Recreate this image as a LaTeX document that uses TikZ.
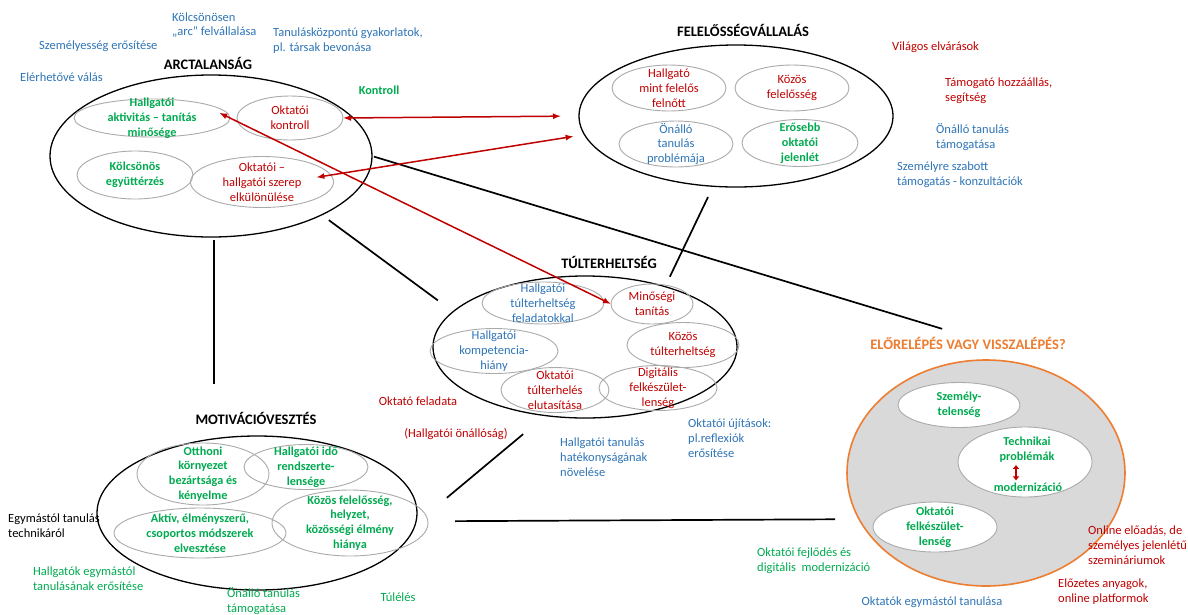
\documentclass[tikz,border=0pt]{standalone}
\usepackage{fontspec}
\setmainfont{Carlito}
\usetikzlibrary{shapes.geometric,arrows.meta}
\definecolor{redtxt}{RGB}{192,0,0}
\definecolor{bluetxt}{RGB}{46,117,182}
\definecolor{greentxt}{RGB}{0,170,80}
\definecolor{orangetxt}{RGB}{237,125,49}
\definecolor{ellgray}{RGB}{170,170,170}
\definecolor{fillgray}{RGB}{217,217,217}
\tikzset{
  txt/.style={font=\fontsize{12.5}{14.8}\selectfont,inner sep=0pt,align=left},
  rtxt/.style={txt,text=redtxt},
  btxt/.style={txt,text=bluetxt},
  gtxt/.style={txt,text=greentxt,font=\bfseries\fontsize{12.2}{14.8}\selectfont},
  gtxtn/.style={txt,text=greentxt},
  ktxt/.style={txt,text=black},
  title/.style={font=\bfseries\fontsize{14.5}{16}\selectfont,inner sep=0pt},
  bigell/.style={ellipse,draw=black,line width=1.3pt,inner sep=0pt,outer sep=0pt},
  subell/.style={ellipse,draw=ellgray,line width=0.9pt,inner sep=0pt,outer sep=0pt},
  link/.style={draw=black,line width=1.7pt},
  redarr/.style={draw=redtxt,line width=1.5pt,{Latex[length=8pt,width=6pt]}-{Latex[length=8pt,width=6pt]}}
}
\begin{document}
\begin{tikzpicture}[x=1pt,y=-1pt]
  \useasboundingbox[fill=white] (0,0) rectangle (1188,614);
  %%%%% ARCTALANSAG %%%%%
  \node[title] (arctitle) at (208,63) {ARCTALANSÁG};
  \node[bigell,minimum width=322pt,minimum height=162pt] (arc) at (211,156) {};
  \node[subell,minimum width=156pt,minimum height=38pt,label={[gtxt,align=center]center:{Hallgatói\\aktivitás – tanítás\\minősége}}] (aktiv) at (152,118) {};
  \node[subell,minimum width=106pt,minimum height=44pt,label={[rtxt,align=center]center:{Oktatói\\kontroll}}] (kontroll) at (290,118) {};
  \node[subell,minimum width=116pt,minimum height=48pt,label={[gtxt,align=center]center:{Kölcsönös\\együttérzés}}] (egyutt) at (135,175) {};
  \node[subell,minimum width=143pt,minimum height=51pt,label={[rtxt,align=center]center:{Oktatói –\\hallgatói szerep\\elkülönülése}}] (szerep) at (262,182) {};
  \node[btxt,anchor=west] (kolcs) at (172,25) {Kölcsönösen\\„arc” felvállalása};
  \node[btxt,anchor=west] (tanul) at (273,41) {Tanulásközpontú gyakorlatok,\\pl. társak bevonása};
  \node[btxt,anchor=west] (szemely) at (39,46) {Személyesség erősítése};
  \node[btxt,anchor=west] (elerh) at (20,77) {Elérhetővé válás};
  \node[gtxt] (kontrolltxt) at (379,90) {Kontroll};

  %%%%% FELELOSSEGVALLALAS %%%%%
  \node[title] (feltitle) at (743,30) {FELELŐSSÉGVÁLLALÁS};
  \node[bigell,minimum width=314pt,minimum height=142pt] (fel) at (736,116) {};
  \node[subell,minimum width=114pt,minimum height=46pt,label={[rtxt,align=center]center:{Hallgató\\mint felelős\\felnőtt}}] (hmf) at (669,88) {};
  \node[subell,minimum width=114pt,minimum height=46pt,label={[rtxt,align=center]center:{Közös\\felelősség}}] (kozf) at (792,88) {};
  \node[subell,minimum width=114pt,minimum height=46pt,label={[btxt,align=center]center:{Önálló\\tanulás\\problémája}}] (onp) at (676,144) {};
  \node[subell,minimum width=116pt,minimum height=47pt,label={[gtxt,align=center]center:{Erősebb\\oktatói\\jelenlét}}] (erj) at (800,143) {};
  \node[rtxt,anchor=west] (vilagos) at (892,47) {Világos elvárások};
  \node[rtxt,anchor=west] (tamog) at (945,91) {Támogató hozzáállás,\\segítség};
  \node[btxt,anchor=west] (onalltam) at (936,137) {Önálló tanulás\\támogatása};
  \node[btxt,anchor=west] (szabott) at (897,175) {Személyre szabott\\támogatás - konzultációk};

  %%%%% TULTERHELTSEG %%%%%
  \node[title] (tultitle) at (609,262) {TÚLTERHELTSÉG};
  \node[bigell,minimum width=304pt,minimum height=142pt] (tul) at (585,347) {};
  \node[subell,minimum width=122pt,minimum height=42pt,label={[btxt,align=center]center:{Hallgatói\\túlterheltség\\feladatokkal}}] (htul) at (543,303) {};
  \node[subell,minimum width=82pt,minimum height=40pt,label={[rtxt,align=center]center:{Minőségi\\tanítás}}] (mino) at (652,304) {};
  \node[subell,minimum width=128pt,minimum height=45pt,label={[btxt,align=center]center:{Hallgatói\\kompetencia-\\hiány}}] (komp) at (494,351) {};
  \node[subell,minimum width=112pt,minimum height=45pt,label={[rtxt,align=center]center:{Közös\\túlterheltség}}] (kozt) at (683,345) {};
  \node[subell,minimum width=108pt,minimum height=45pt,label={[rtxt,align=center]center:{Oktatói\\túlterhelés\\elutasítása}}] (okte) at (555,390) {};
  \node[subell,minimum width=118pt,minimum height=45pt,label={[rtxt,align=center]center:{Digitális\\felkészület-\\lenség}}] (digi) at (658,388) {};
  \node[rtxt] (feladata) at (418,401) {Oktató feladata};
  \node[rtxt] (onallosag) at (456,434) {(Hallgatói önállóság)};
  \node[btxt,anchor=west] (hatek) at (560,457) {Hallgatói tanulás\\hatékonyságának\\növelése};
  \node[btxt,anchor=west] (ujit) at (688,438) {Oktatói újítások:\\pl.reflexiók\\erősítése};

  %%%%% MOTIVACIOVESZTES %%%%%
  \node[title] (motivtitle) at (256,418) {MOTIVÁCIÓVESZTÉS};
  \node[bigell,minimum width=320pt,minimum height=154pt] (motiv) at (257,513) {};
  \node[subell,minimum width=132pt,minimum height=62pt,label={[gtxt,align=center]center:{Otthoni\\környezet\\bezártsága és\\kényelme}}] (otth) at (203,474) {};
  \node[subell,minimum width=124pt,minimum height=45pt,label={[gtxt,align=center]center:{Hallgatói idő\\rendszerte-\\lensége}}] (hido) at (306,467) {};
  \node[subell,minimum width=172pt,minimum height=50pt,label={[gtxt,align=center]center:{Aktív, élményszerű,\\csoportos módszerek\\elvesztése}}] (aktv) at (200,533) {};
  \node[subell,minimum width=156pt,minimum height=66pt,label={[gtxt,align=center]center:{Közös felelősség,\\helyzet,\\közösségi élmény\\hiánya}}] (kozh) at (350,523) {};
  \node[ktxt,anchor=west] (technik) at (8,526) {Egymástól tanulás\\technikáról};
  \node[gtxtn,anchor=west] (hallgegym) at (33,579) {Hallgatók egymástól\\tanulásának erősítése};
  \node[gtxtn,anchor=west] (onalltam2) at (227,601) {Önálló tanulás\\támogatása};
  \node[gtxtn] (tulel) at (398,597) {Túlélés};

  %%%%% ELORELEPES %%%%%
  \node[title,text=orangetxt] (elotitle) at (968,343) {ELŐRELÉPÉS VAGY VISSZALÉPÉS?};
  \node[ellipse,draw=orangetxt,fill=fillgray,line width=1.6pt,inner sep=0pt,outer sep=0pt,minimum width=278pt,minimum height=226pt] (elo) at (986,473) {};
  \node[subell,fill=white,minimum width=122pt,minimum height=45pt,label={[gtxt,align=center]center:{Személy-\\telenség}}] (szemt) at (959,405) {};
  \node[subell,fill=white,minimum width=134pt,minimum height=70pt] (tech) at (1025,462) {};
  \node[gtxt,align=center] (techA) at (1027,450) {Technikai\\problémák};
  \node[gtxt] (techB) at (1028,487) {modernizáció};
  \node[subell,fill=white,minimum width=124pt,minimum height=50pt,label={[gtxt,align=center]center:{Oktatói\\felkészület-\\lenség}}] (felk) at (935,527) {};
  \node[rtxt,anchor=west] (online) at (1088,545) {Online előadás, de\\személyes jelenlétű\\szemináriumok};
  \node[rtxt,anchor=west] (elozetes) at (1058,592) {Előzetes anyagok,\\online platformok};
  \node[btxt] (oktegym) at (932,602) {Oktatók egymástól tanulása};
  \node[gtxtn,anchor=west] (fejl) at (757,561) {Oktatói fejlődés és\\digitális\ \ modernizáció};

  %%%%% CONNECTIONS %%%%%
  \draw[link,shorten <=3pt,shorten >=52pt] (arc.-88) -- (arc.-88 |- motiv.north);
  \draw[link,shorten <=9pt,shorten >=19pt] (arc.-28) -- (tul.165);
  \draw[link,shorten <=2pt,shorten >=27pt] (arc.0) -- (elotitle.north);
  \draw[link,shorten <=12pt,shorten >=11pt] (fel.-108) -- (tul.37);
  \draw[link,shorten <=41pt,shorten >=29pt] (motiv.-4) -- (tul.-120);
  \draw[link,shorten <=39pt,shorten >=24pt] (motiv.-3) -- (elo.-160);

  \draw[redarr,shorten >=18pt] (kontroll.east) -- (fel.west);
  \draw[redarr,shorten <=55pt,shorten >=11pt] ([yshift=-4pt]szerep.center) -- (fel.187);
  \draw[redarr,shorten <=-12pt] (aktiv.east) -- (mino.west);
  \draw[draw=redtxt,line width=2.2pt,{Latex[length=4pt,width=7pt]}-{Latex[length=4pt,width=7pt]}] ([xshift=-11pt,yshift=-2pt]techA.south) -- ([xshift=-12pt,yshift=2pt]techB.north);
\end{tikzpicture}
\end{document}
